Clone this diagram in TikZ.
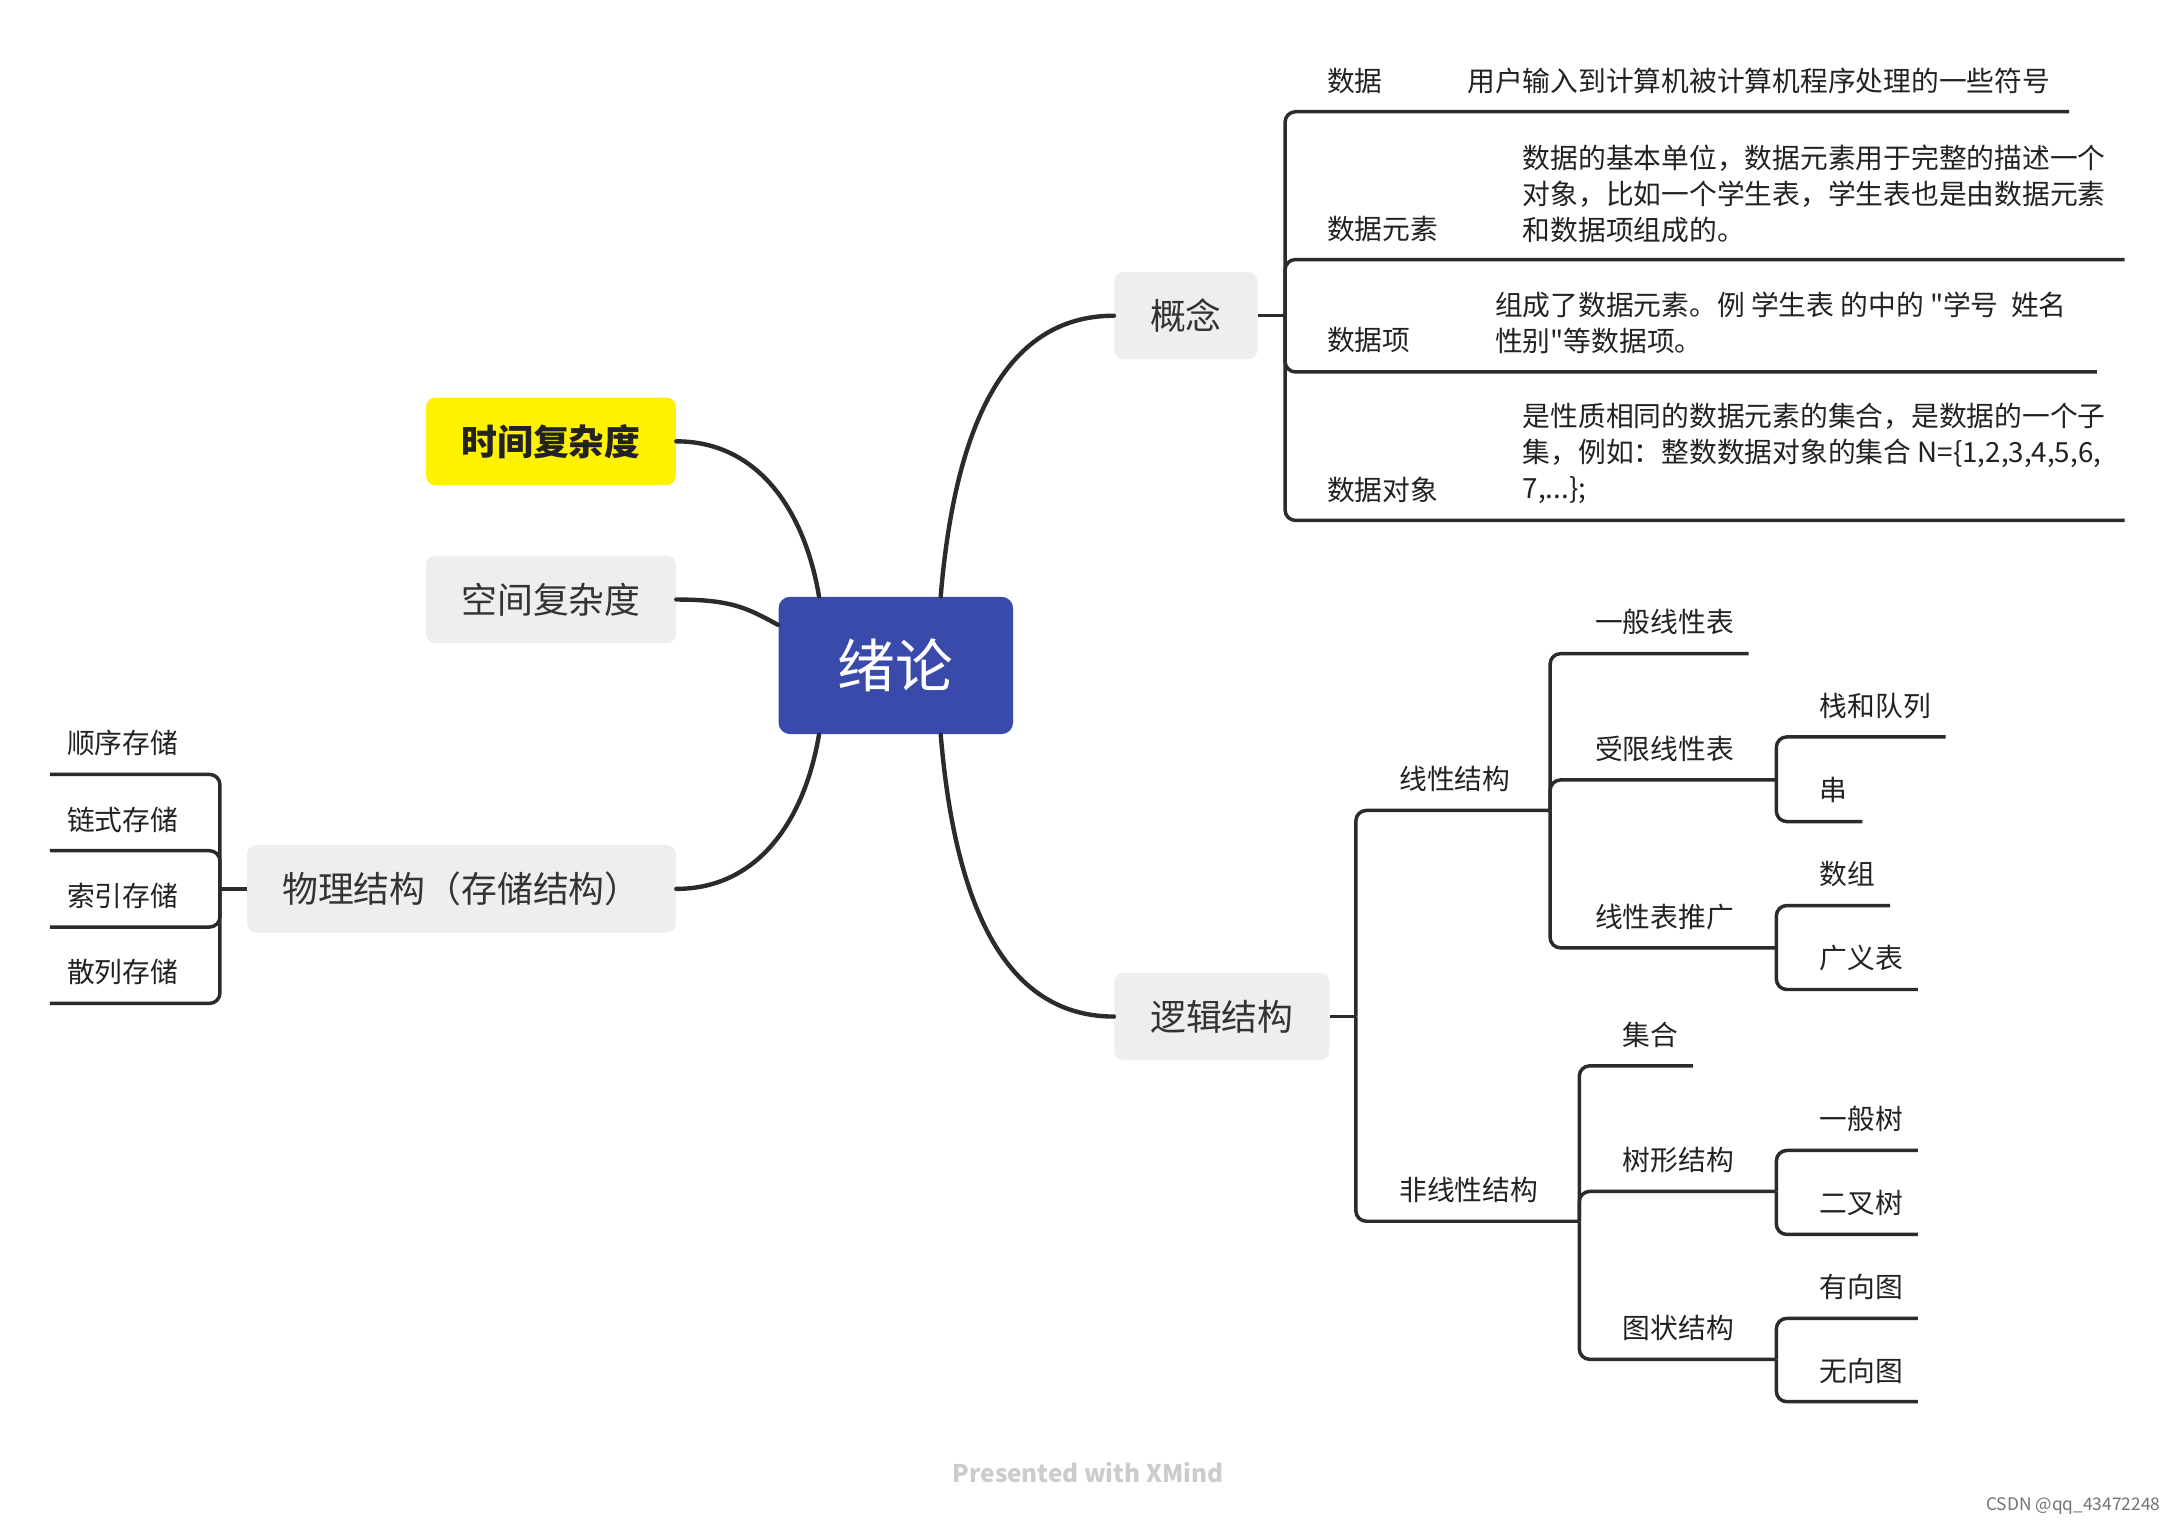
\documentclass[tikz,border=0pt]{standalone}
\usepackage{fontspec}
\setmainfont{Noto Sans CJK SC}
\newfontfamily\plainfont{Noto Sans CJK SC}
\definecolor{cblue}{HTML}{3A4AAB}
\definecolor{cgray}{HTML}{EEEEEE}
\definecolor{cline}{HTML}{2B2B2B}
\definecolor{ctext}{HTML}{222222}
\definecolor{ctxttwo}{HTML}{333333}
\begin{document}
\begin{tikzpicture}[x=0.6pt,y=-0.6pt,
  topbox/.style={fill=cgray, rounded corners=4pt, text=ctxttwo, font=\fontsize{15.5}{18}\selectfont, minimum height=37.8pt, inner sep=0pt},
  lbl/.style={anchor=west, inner sep=0pt, text=ctext, font=\fontsize{12}{15.6}\selectfont},
  desc/.style={lbl, align=left},
  mainbr/.style={draw=cline, line width=1.9pt, line cap=round},
  br/.style={draw=cline, line width=1.5pt, rounded corners=4.5pt}
]
\useasboundingbox (0,0) rectangle (1568,1098);
\fill[white] (0,0) rectangle (1568,1098);

% main nodes
\node[fill=cblue, rounded corners=5pt, minimum width=101.4pt, minimum height=59.4pt, text=white, font=\fontsize{25}{30}\selectfont, inner sep=0pt] (c) at (645.5,479.5) {绪论};
\node[topbox, fill=yellow, text=ctext, font=\bfseries\fontsize{15.5}{18}\selectfont, minimum width=108pt] (tm) at (397,318) {时间复杂度};
\node[topbox, minimum width=108pt] (sp) at (397,432) {空间复杂度};
\node[topbox, minimum width=185.4pt] (ph) at (332.5,640.5) {物理结构（存储结构）};
\node[topbox, minimum width=61.8pt] (gn) at (854.5,227.5) {概念};
\node[topbox, minimum width=93pt] (lg) at (880.5,732.5) {逻辑结构};

% main curves
\draw[mainbr] (tm.east) .. controls +(60,0) and +(-10,-60) .. (c.138);
\draw[mainbr] (sp.east) .. controls +(40,0) and +(-22,-12) .. (c.161);
\draw[mainbr] (ph.east) .. controls +(60,0) and +(-10,60) .. (c.222);
\draw[mainbr] (c.57) .. controls +(10,-120) and +(-80,0) .. (gn.west);
\draw[mainbr] (c.303) .. controls +(10,120) and +(-80,0) .. (lg.west);

% concept branch
\coordinate (jg) at (926,227.5);
\coordinate (g1) at (1491,80.5);
\coordinate (g2) at (1531,187);
\coordinate (g3) at (1511,268);
\coordinate (g4) at (1531,375);
\draw[br] (gn.east) -- (jg);
\draw[br] (jg) |- (g1);
\draw[br] (jg) |- (g2);
\draw[br] (jg) |- (g3);
\draw[br] (jg) |- (g4);
\node[lbl] (d1) at (956,58) {数据};
\node[lbl] (d1t) at (1057,58) {用户输入到计算机被计算机程序处理的一些符号};
\node[lbl] (d2) at (956,165) {数据元素};
\node[desc] (d2t) at (1097,139.5) {数据的基本单位，数据元素用于完整的描述一个\\对象，比如一个学生表，学生表也是由数据元素\\和数据项组成的。};
\node[lbl] (d3) at (956,245) {数据项};
\node[desc] (d3t) at (1077,232.5) {\plainfont 组成了数据元素。例 学生表 的中的 "学号\ \ 姓名\\\plainfont 性别"等数据项。};
\node[lbl] (d4) at (956,353) {数据对象};
\node[desc] (d4t) at (1097,327) {是性质相同的数据元素的集合，是数据的一个子\\集，例如：整数数据对象的集合 N=\{1,2,3,4,5,6,\\7,...\};};

% logic branch
\coordinate (jl) at (977,732.5);
\coordinate (ls) at (1117,584);
\coordinate (ns) at (1138,880);
\draw[br] (lg.east) -- (jl);
\draw[br] (jl) |- (ls);
\draw[br] (jl) |- (ns);
\node[lbl] (t-ls) at (1008,561.5) {线性结构};
\node[lbl] (t-ns) at (1008,857.5) {非线性结构};

\coordinate (l1) at (1260,471);
\coordinate (l2) at (1280,562);
\coordinate (l3) at (1280,683);
\draw[br] (ls) |- (l1);
\draw[br] (ls) |- (l2);
\draw[br] (ls) |- (l3);
\node[lbl] (t-l1) at (1149,448.5) {一般线性表};
\node[lbl] (t-l2) at (1149,539.5) {受限线性表};
\node[lbl] (t-l3) at (1149,660.5) {线性表推广};

\coordinate (l21) at (1402,531);
\coordinate (l22) at (1342,592);
\draw[br] (l2) |- (l21);
\draw[br] (l2) |- (l22);
\node[lbl] (t-l21) at (1311,508.5) {栈和队列};
\node[lbl] (t-l22) at (1311,569.5) {串};

\coordinate (l31) at (1362,652.5);
\coordinate (l32) at (1382,713);
\draw[br] (l3) |- (l31);
\draw[br] (l3) |- (l32);
\node[lbl] (t-l31) at (1311,630) {数组};
\node[lbl] (t-l32) at (1311,690.5) {广义表};

\coordinate (n1) at (1220,768);
\coordinate (n2) at (1280,858.5);
\coordinate (n3) at (1280,979.5);
\draw[br] (ns) |- (n1);
\draw[br] (ns) |- (n2);
\draw[br] (ns) |- (n3);
\node[lbl] (t-n1) at (1169,745.5) {集合};
\node[lbl] (t-n2) at (1169,836) {树形结构};
\node[lbl] (t-n3) at (1169,957) {图状结构};

\coordinate (n21) at (1382,829);
\coordinate (n22) at (1382,889.5);
\draw[br] (n2) |- (n21);
\draw[br] (n2) |- (n22);
\node[lbl] (t-n21) at (1311,806.5) {一般树};
\node[lbl] (t-n22) at (1311,867) {二叉树};

\coordinate (n31) at (1382,950);
\coordinate (n32) at (1382,1010);
\draw[br] (n3) |- (n31);
\draw[br] (n3) |- (n32);
\node[lbl] (t-n31) at (1311,927.5) {有向图};
\node[lbl] (t-n32) at (1311,987.5) {无向图};

% physical branch
\coordinate (jp) at (158.5,640.5);
\coordinate (p1) at (36,558);
\coordinate (p2) at (36,613);
\coordinate (p3) at (36,668);
\coordinate (p4) at (36,723);
\draw[br] (ph.west) -- (jp);
\draw[br] (jp) |- (p1);
\draw[br] (jp) |- (p2);
\draw[br] (jp) |- (p3);
\draw[br] (jp) |- (p4);
\node[lbl] (t-p1) at (48,535.5) {顺序存储};
\node[lbl] (t-p2) at (48,590.5) {链式存储};
\node[lbl] (t-p3) at (48,645.5) {索引存储};
\node[lbl] (t-p4) at (48,700.5) {散列存储};

% footer
\node[font=\bfseries\fontsize{10.5}{12}\selectfont, text=black!20] (wm) at (784,1061) {Presented with XMind};
\node[anchor=east, inner sep=0pt, font=\fontsize{7.5}{9}\selectfont, text=black!55] (cs) at (1557,1085) {CSDN @qq\_43472248};
\end{tikzpicture}
\end{document}
